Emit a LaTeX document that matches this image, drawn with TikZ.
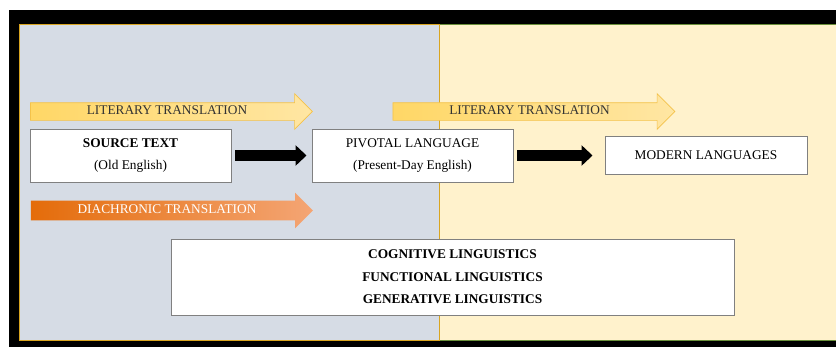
\documentclass[tikz,border=0pt]{standalone}
\usepackage{fontspec}
\setmainfont{Liberation Serif}
\usetikzlibrary{shapes.arrows,arrows.meta}
\definecolor{fondosx}{HTML}{D6DCE5}
\definecolor{fondodx}{HTML}{FFF2CC}
\definecolor{bordooro}{HTML}{D9A520}
\definecolor{bordoverde}{HTML}{6A8F3A}
\definecolor{gialloA}{HTML}{FFD766}
\definecolor{gialloB}{HTML}{FFE6A3}
\definecolor{giallobordo}{HTML}{F4C24A}
\definecolor{aranciaA}{HTML}{E46C0A}
\definecolor{aranciaB}{HTML}{F4A574}
\begin{document}
\begin{tikzpicture}[x=0.75pt,y=-0.75pt]
    % Definizione stili
    \tikzstyle{box}=[draw=gray, fill=white, line width=0.7pt, font=\fontsize{10}{16.5}\selectfont, align=center]
    \tikzstyle{literary}=[shape=single arrow, single arrow head extend=6.75pt, single arrow tip angle=90, minimum height=211.5pt, inner xsep=0pt, inner ysep=1.875pt, text height=7pt, text depth=2pt, draw=giallobordo, line width=0.5pt, left color=gialloA, right color=gialloB, text=black!80, font=\fontsize{10}{12}\selectfont]
    \tikzstyle{diachronic}=[shape=single arrow, single arrow head extend=6pt, single arrow tip angle=90, minimum height=211.5pt, inner xsep=0pt, inner ysep=2.625pt, text height=7pt, text depth=2pt, left color=aranciaA, right color=aranciaB, text=white, font=\fontsize{10}{12}\selectfont]
    \tikzstyle{flow}=[line width=8.25pt, -{Triangle[length=8.25pt, width=15pt]}]

    \useasboundingbox (0,0) rectangle (836,347);

    % Cornice e pannelli
    \fill[black] (9,10) rectangle (836,347);
    \filldraw[fill=fondodx, draw=bordoverde, line width=0.6pt] (439,24) rectangle (836,340);
    \filldraw[fill=fondosx, draw=bordooro, line width=0.6pt] (19,24) rectangle (439,340);

    % Frecce di traduzione
    \node[literary] (lit_uno) at (167,111.5) {LITERARY TRANSLATION};
    \node[literary] (lit_due) at (529.5,111.5) {LITERARY TRANSLATION};
    \node[diachronic] (diacronica) at (167,210.5) {DIACHRONIC TRANSLATION};

    % Testi e lingue
    \node[box, minimum width=150.75pt, minimum height=39.75pt] (sorgente) at (130.5,155.5) {\textbf{SOURCE TEXT}\\(Old English)};
    \node[box, minimum width=150.75pt, minimum height=39.75pt] (pivot) at (412.5,155.5) {PIVOTAL LANGUAGE\\(Present-Day English)};
    \node[box, minimum width=151.5pt, minimum height=28.5pt] (moderne) at (706,155.5) {MODERN LANGUAGES};

    % Approcci linguistici
    \node[box, minimum width=422.25pt, minimum height=57pt, font=\bfseries\fontsize{10}{17}\selectfont] (approcci) at (452.5,277) {COGNITIVE LINGUISTICS\\FUNCTIONAL LINGUISTICS\\GENERATIVE LINGUISTICS};

    % Frecce nere
    \draw[flow, shorten <=3pt, shorten >=3.75pt] (sorgente) -- (pivot);
    \draw[flow, shorten <=3pt, shorten >=9pt] (pivot) -- (moderne);
\end{tikzpicture}
\end{document}
